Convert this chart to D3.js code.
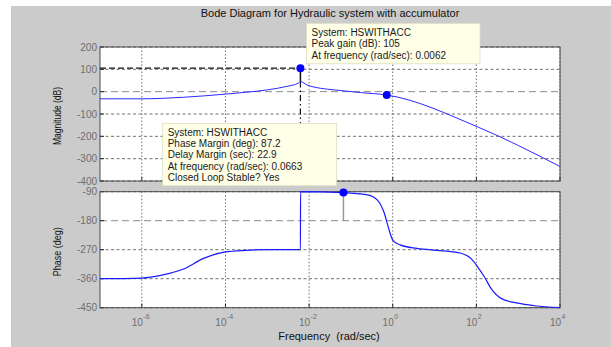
<!DOCTYPE html>
<html>
<head>
<meta charset="utf-8">
<script src="https://cdn.jsdelivr.net/npm/d3@7"></script>
<style>
  html, body { margin: 0; padding: 0; background: #ffffff; }
  svg { display: block; font-family: "Liberation Sans", Arial, sans-serif; }
</style>
</head>
<body>
<svg id="chart" width="611" height="347"></svg>
<script>
// Bode response of the hydraulic system with accumulator
const magFreq = [1e-7, 1e-6, 3e-6, 1e-5, 3e-5, 1e-4, 3e-4, 1e-3, 3e-3, 5.5e-3, 6.2e-3, 9e-3, 1.9e-2, 4e-2, 0.17, 0.72, 105, 1e4];
const magDb   = [-32, -32, -30, -25, -19, -11, -3, 8, 24, 38, 45, 30, 15, 8, -4, -15, -157, -335];

const phaseFreq = [1e-7, 1e-6, 3e-6, 1e-5, 3e-5, 1e-4, 3e-4, 1e-3, 6.2e-3, 6.25e-3, 0.0663, 0.25, 0.43, 0.63, 0.78, 1, 1.5, 3.8, 14, 43, 74, 107, 155, 224, 390, 980, 2450, 1e4];
const phaseDeg  = [-360, -358, -349, -330, -297, -277, -272, -270, -270, -90, -92.8, -100, -116, -157, -199, -240, -255, -266, -273, -281, -297, -323, -354, -390, -421, -436, -444, -450];

// Data-tip values
const peakFreq = 0.0062, peakGain = 105;
const pmFreq = 0.0663, phaseMargin = 87.2, delayMargin = 22.9;
const magMarkFreq = 0.72, magMarkDb = -15;

const magTicks = [200, 100, 0, -100, -200, -300, -400];
const phaseTicks = [-90, -180, -270, -360, -450];
const freqTickExp = [-6, -4, -2, 0, 2, 4];

const titleText = "Bode Diagram for Hydraulic system with accumulator";
const peakTip = ["System: HSWITHACC", "Peak gain (dB): " + peakGain, "At frequency (rad/sec): " + peakFreq];
const pmTip = ["System: HSWITHACC", "Phase Margin (deg): " + phaseMargin, "Delay Margin (sec): " + delayMargin,
               "At frequency (rad/sec): " + pmFreq, "Closed Loop Stable? Yes"];

const svg = d3.select("#chart");
const left = 100, right = 560;
const magTop = 47, magBot = 181, phTop = 191.7, phBot = 307.7;

const x = d3.scaleLog().domain([1e-7, 1e4]).range([left, right]);
const yMag = d3.scaleLinear().domain([-400, 200]).range([magBot, magTop]);
const yPh = d3.scaleLinear().domain([-450, -90]).range([phBot, phTop]);

// figure background
svg.append("rect").attr("x", 11).attr("y", 6).attr("width", 600).attr("height", 341).attr("fill", "#cbcbcb");

function panel(y, ticks, specialVal) {
  const g = svg.append("g");
  const [y0, y1] = y.range();
  g.append("rect").attr("x", left).attr("y", y1).attr("width", right - left).attr("height", y0 - y1).attr("fill", "#ffffff");
  // vertical grid
  freqTickExp.forEach(e => {
    g.append("line").attr("x1", x(Math.pow(10, e))).attr("x2", x(Math.pow(10, e)))
      .attr("y1", y1).attr("y2", y0)
      .attr("stroke", "#707070").attr("stroke-width", 1).attr("stroke-dasharray", "1.5,2");
  });
  // horizontal grid
  ticks.forEach(t => {
    const special = t === specialVal;
    g.append("line").attr("x1", left).attr("x2", right).attr("y1", y(t)).attr("y2", y(t))
      .attr("stroke", special ? "#8a8a8a" : "#707070").attr("stroke-width", 1)
      .attr("stroke-dasharray", special ? "7,4" : "3,2.5");
  });
  // tick labels and tick marks
  ticks.forEach(t => {
    g.append("text").attr("x", 97).attr("y", y(t) + 3.5).attr("text-anchor", "end")
      .attr("font-size", 10).attr("fill", "#6e6e6e").text(t);
    g.append("line").attr("x1", left).attr("x2", left + 4).attr("y1", y(t)).attr("y2", y(t))
      .attr("stroke", "#222");
  });
  freqTickExp.forEach(e => {
    g.append("line").attr("x1", x(Math.pow(10, e))).attr("x2", x(Math.pow(10, e)))
      .attr("y1", y0).attr("y2", y0 - 4).attr("stroke", "#222");
  });
  g.append("rect").attr("x", left).attr("y", y1).attr("width", right - left).attr("height", y0 - y1)
    .attr("fill", "none").attr("stroke", "#4a4a4a").attr("stroke-width", 1);
  return g;
}

panel(yMag, magTicks, 0);
panel(yPh, phaseTicks, -180);

const line = (yS) => d3.line().x(d => x(d[0])).y(d => yS(d[1])).curve(d3.curveMonotoneX);

// peak data-tip guide lines
svg.append("line").attr("x1", left).attr("x2", x(peakFreq)).attr("y1", yMag(peakGain)).attr("y2", yMag(peakGain))
  .attr("stroke", "#111").attr("stroke-width", 1.2).attr("stroke-dasharray", "6,3");
svg.append("line").attr("x1", x(peakFreq)).attr("x2", x(peakFreq)).attr("y1", yMag(45)).attr("y2", magBot)
  .attr("stroke", "#111").attr("stroke-width", 1.2).attr("stroke-dasharray", "6,3,1.5,3");
svg.append("line").attr("x1", x(peakFreq)).attr("x2", x(peakFreq)).attr("y1", yMag(peakGain)).attr("y2", yMag(45))
  .attr("stroke", "#111").attr("stroke-width", 1.5);

// phase margin guide
svg.append("line").attr("x1", x(pmFreq)).attr("x2", x(pmFreq)).attr("y1", yPh(-180 + phaseMargin)).attr("y2", yPh(-180))
  .attr("stroke", "#999").attr("stroke-width", 1.5);

// response curves
svg.append("path").datum(d3.zip(magFreq, magDb)).attr("d", line(yMag))
  .attr("fill", "none").attr("stroke", "#2a2aff").attr("stroke-width", 1);
svg.append("path").datum(d3.zip(phaseFreq, phaseDeg)).attr("d", line(yPh))
  .attr("fill", "none").attr("stroke", "#1a1aff").attr("stroke-width", 1.2);

// markers
[[x(peakFreq), yMag(peakGain)], [x(magMarkFreq), yMag(magMarkDb)], [x(pmFreq), yPh(-180 + phaseMargin)]]
  .forEach(p => svg.append("circle").attr("cx", p[0]).attr("cy", p[1]).attr("r", 4).attr("fill", "#0000ff"));

// data-tip boxes
function tip(x0, y0, w, lines, lh) {
  const g = svg.append("g");
  g.append("rect").attr("x", x0).attr("y", y0).attr("width", w).attr("height", lines.length * lh + 6)
    .attr("fill", "#ffffe8").attr("stroke", "#dcdcc4").attr("stroke-width", 0.8);
  lines.forEach((s, i) => g.append("text").attr("x", x0 + 5).attr("y", y0 + 12.5 + i * lh)
    .attr("font-size", 10).attr("fill", "#1a1a1a").text(s));
}
tip(306.5, 23.3, 173.5, peakTip, 11.5);
tip(162.7, 123.3, 174, pmTip, 11.3);

// titles
svg.append("text").attr("x", 330).attr("y", 17).attr("text-anchor", "middle")
  .attr("font-size", 11).attr("fill", "#111").text(titleText);
svg.append("text").attr("transform", `translate(61,${(magTop + magBot) / 2 + 2}) rotate(-90)`)
  .attr("text-anchor", "middle").attr("font-size", 10).attr("fill", "#111")
  .attr("textLength", 58).attr("lengthAdjust", "spacingAndGlyphs").text("Magnitude (dB)");
svg.append("text").attr("transform", `translate(61,${(phTop + phBot) / 2 + 2}) rotate(-90)`)
  .attr("text-anchor", "middle").attr("font-size", 10).attr("fill", "#111")
  .attr("textLength", 49).attr("lengthAdjust", "spacingAndGlyphs").text("Phase (deg)");
svg.append("text").attr("x", 329).attr("y", 340).attr("text-anchor", "middle")
  .attr("font-size", 11).attr("fill", "#111").attr("xml:space", "preserve").text("Frequency  (rad/sec)");

// frequency tick labels as powers of ten
freqTickExp.forEach(e => {
  const t = svg.append("text").attr("x", x(Math.pow(10, e)) + 1).attr("y", 325.5).attr("text-anchor", "end")
    .attr("font-size", 10).attr("fill", "#6e6e6e");
  t.append("tspan").text("10");
  svg.append("text").attr("x", x(Math.pow(10, e)) + 1.5).attr("y", 319).attr("font-size", 7)
    .attr("fill", "#6e6e6e").text(e);
});
</script>
</body>
</html>
